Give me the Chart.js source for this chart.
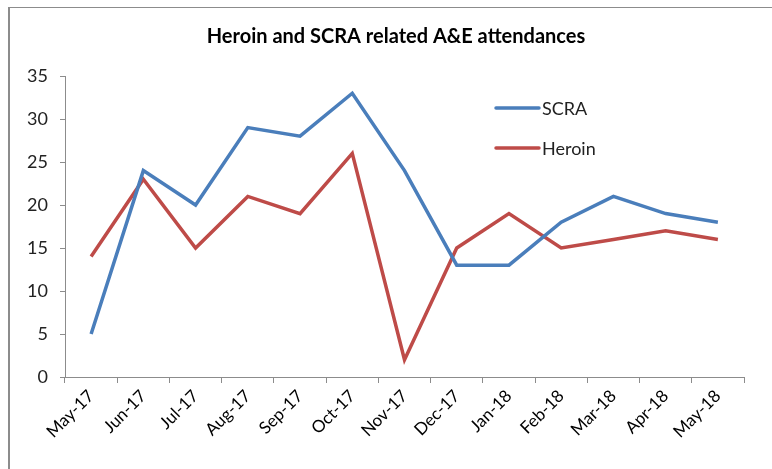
<!DOCTYPE html>
<html>
<head>
<meta charset="utf-8">
<script src="https://cdn.jsdelivr.net/npm/chart.js@4"></script>
<style>
  html, body { margin: 0; padding: 0; background: #fff; }
  #wrap { width: 772px; height: 469px; position: relative; }
</style>
</head>
<body>
<div id="wrap"><canvas id="chart"></canvas></div>
<script>
const months = ["May-17", "Jun-17", "Jul-17", "Aug-17", "Sep-17", "Oct-17", "Nov-17",
  "Dec-17", "Jan-18", "Feb-18", "Mar-18", "Apr-18", "May-18"];
const scra = [5, 24, 20, 29, 28, 33, 24, 13, 13, 18, 21, 19, 18];
const heroin = [14, 23, 15, 21, 19, 26, 2, 15, 19, 15, 16, 17, 16];
const yTicks = [0, 5, 10, 15, 20, 25, 30, 35];

const FONT = "Lato, 'Open Sans', sans-serif";

// frame lines on left and top like the pasted Excel picture
const framePlugin = {
  id: "frame",
  beforeDraw(chart) {
    const c = chart.ctx;
    c.save();
    c.fillStyle = "#fff";
    c.fillRect(0, 0, chart.width, chart.height);
    c.fillStyle = "#8c8c8c";
    c.fillRect(8, 7, 2, chart.height - 7);
    c.fillRect(8, 7, chart.width - 8, 1);
    c.restore();
  }
};

// legend drawn inside the plot, line sample then label
const innerLegend = {
  id: "innerLegend",
  afterDatasetsDraw(chart) {
    const c = chart.ctx;
    c.save();
    c.font = "18px " + FONT;
    c.textBaseline = "middle";
    chart.data.datasets.forEach((ds, i) => {
      const y = 108 + i * 40;
      c.strokeStyle = ds.borderColor;
      c.lineWidth = 3.5;
      c.lineCap = "round";
      c.beginPath(); c.moveTo(496, y); c.lineTo(539, y); c.stroke();
      c.fillStyle = "#222";
      c.fillText(ds.label, 542, y + 1);
    });
    c.restore();
  }
};

new Chart(document.getElementById("chart"), {
  type: "line",
  data: {
    labels: months,
    datasets: [
      { label: "SCRA", data: scra, borderColor: "#4a7ebb", borderWidth: 3.5, pointRadius: 0, tension: 0 },
      { label: "Heroin", data: heroin, borderColor: "#be4b48", borderWidth: 3.5, pointRadius: 0, tension: 0 }
    ]
  },
  options: {
    responsive: true,
    maintainAspectRatio: false,
    animation: false,
    layout: { padding: { top: 0, right: 0, bottom: 0, left: 20 } },
    plugins: {
      legend: { display: false },
      tooltip: { enabled: false },
      title: {
        display: true,
        text: "Heroin and SCRA related A&E attendances",
        color: "#000",
        font: { family: FONT, size: 20, weight: "bold" },
        padding: { top: 25, bottom: 27 }
      }
    },
    scales: {
      x: {
        offset: true,
        grid: { offset: true, drawOnChartArea: false, tickLength: 6, color: "#8c8c8c" },
        border: { color: "#8c8c8c", width: 1 },
        ticks: {
          color: "#000", font: { family: FONT, size: 17 },
          minRotation: 45, maxRotation: 45, padding: 3, autoSkip: false
        },
        afterFit: s => { s.height = 92; }
      },
      y: {
        min: 0, max: 35,
        afterBuildTicks: s => { s.ticks = yTicks.map(v => ({ value: v })); },
        grid: { drawOnChartArea: false, tickLength: 5, color: "#8c8c8c" },
        border: { color: "#8c8c8c", width: 1 },
        ticks: { color: "#222", font: { family: FONT, size: 18 }, padding: 12 },
        afterFit: s => { s.width = 45; }
      },
      spacer: {
        type: "linear",
        position: "right",
        grid: { display: false },
        border: { display: false },
        ticks: { display: false },
        afterFit: s => { s.width = 28; }
      }
    }
  },
  plugins: [framePlugin, innerLegend]
});
</script>
</body>
</html>
